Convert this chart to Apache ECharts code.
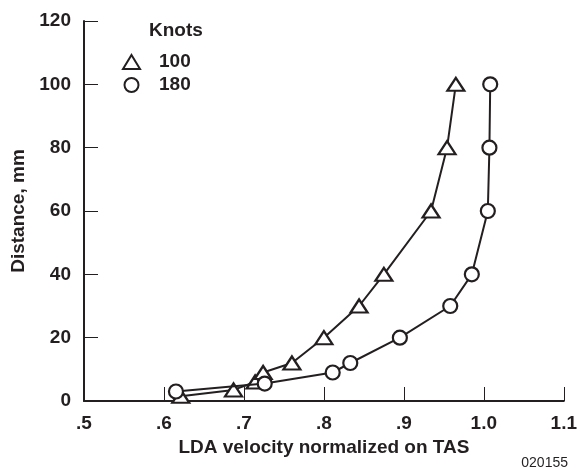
<!DOCTYPE html>
<html>
<head>
<meta charset="utf-8">
<script src="https://cdn.jsdelivr.net/npm/echarts@6/dist/echarts.min.js"></script>
<style>
html,body{margin:0;padding:0;background:#fff;}
#chart{width:580px;height:470px;}
</style>
</head>
<body>
<div id="chart"></div>
<script>
// Data
var seriesNames = ['100', '180'];
var knots100X = [0.621, 0.687, 0.714, 0.724, 0.760, 0.800, 0.844, 0.875, 0.934, 0.954, 0.965];
var knots100Y = [1.5, 3.5, 6, 9, 12, 20, 30, 40, 60, 80, 100];
var knots180X = [0.615, 0.726, 0.811, 0.833, 0.895, 0.958, 0.985, 1.005, 1.007, 1.008];
var knots180Y = [3, 5.5, 9, 12, 20, 30, 40, 60, 80, 100];
var xTickLabels = ['.5', '.6', '.7', '.8', '.9', '1.0', '1.1'];
var yTickLabels = ['0', '20', '40', '60', '80', '100', '120'];

function pairs(xs, ys) { return xs.map(function (x, i) { return [x, ys[i]]; }); }

var INK = '#231f20';
var FONT = '"Liberation Sans", Arial, Helvetica, sans-serif';

var chart = echarts.init(document.getElementById('chart'), null, {renderer: 'canvas'});
chart.setOption({
  animation: false,
  backgroundColor: '#fff',
  grid: {left: 84, right: 11, top: 21, bottom: 69, containLabel: false},
  legend: {
    orient: 'vertical',
    left: 122,
    top: 52,
    padding: 0,
    itemGap: 3,
    itemWidth: 17,
    itemHeight: 14,
    selectedMode: false,
    data: [{name: seriesNames[0], icon: 'triangle'}, {name: seriesNames[1], icon: 'circle'}],
    itemStyle: {color: '#fff', borderColor: INK, borderWidth: 2},
    textStyle: {color: INK, fontFamily: FONT, fontWeight: 'bold', fontSize: 19, lineHeight: 20, padding: [0, 0, 0, 14]}
  },
  graphic: [
    {type: 'text', left: 149, top: 21, style: {text: 'Knots', fill: INK, font: 'bold 19px ' + FONT}},
    {type: 'text', right: 12, top: 456, style: {text: '020155', fill: INK, font: '14px ' + FONT}}
  ],
  xAxis: {
    type: 'value',
    min: 0.5, max: 1.1, interval: 0.1,
    name: 'LDA velocity normalized on TAS',
    nameLocation: 'middle',
    nameGap: 36,
    nameTextStyle: {color: INK, fontFamily: FONT, fontWeight: 'bold', fontSize: 19},
    axisLine: {show: true, onZero: false, lineStyle: {color: INK, width: 2}},
    axisTick: {show: true, inside: true, length: 14, lineStyle: {color: INK, width: 1}},
    splitLine: {show: false},
    axisLabel: {
      color: INK, fontFamily: FONT, fontWeight: 'bold', fontSize: 19, margin: 13,
      formatter: function (v) { return xTickLabels[Math.round((v - 0.5) / 0.1)]; }
    }
  },
  yAxis: {
    type: 'value',
    min: 0, max: 120, interval: 20,
    name: 'Distance, mm',
    nameLocation: 'middle',
    nameGap: 51,
    nameTextStyle: {color: INK, fontFamily: FONT, fontWeight: 'bold', fontSize: 19},
    axisLine: {show: true, onZero: false, lineStyle: {color: INK, width: 2}},
    axisTick: {show: true, inside: true, length: 14, lineStyle: {color: INK, width: 1}},
    splitLine: {show: false},
    axisLabel: {
      color: INK, fontFamily: FONT, fontWeight: 'bold', fontSize: 19, margin: 13,
      formatter: function (v) { return yTickLabels[Math.round(v / 20)]; }
    }
  },
  series: [
    {
      name: seriesNames[0], type: 'line', data: pairs(knots100X, knots100Y),
      symbol: 'triangle', symbolSize: [17, 13], showAllSymbol: true,
      lineStyle: {color: INK, width: 2},
      itemStyle: {color: '#fff', borderColor: INK, borderWidth: 2.2},
      z: 3
    },
    {
      name: seriesNames[1], type: 'line', data: pairs(knots180X, knots180Y),
      symbol: 'circle', symbolSize: 14, showAllSymbol: true,
      lineStyle: {color: INK, width: 2},
      itemStyle: {color: '#fff', borderColor: INK, borderWidth: 2.2},
      z: 4
    }
  ]
});
</script>
</body>
</html>
